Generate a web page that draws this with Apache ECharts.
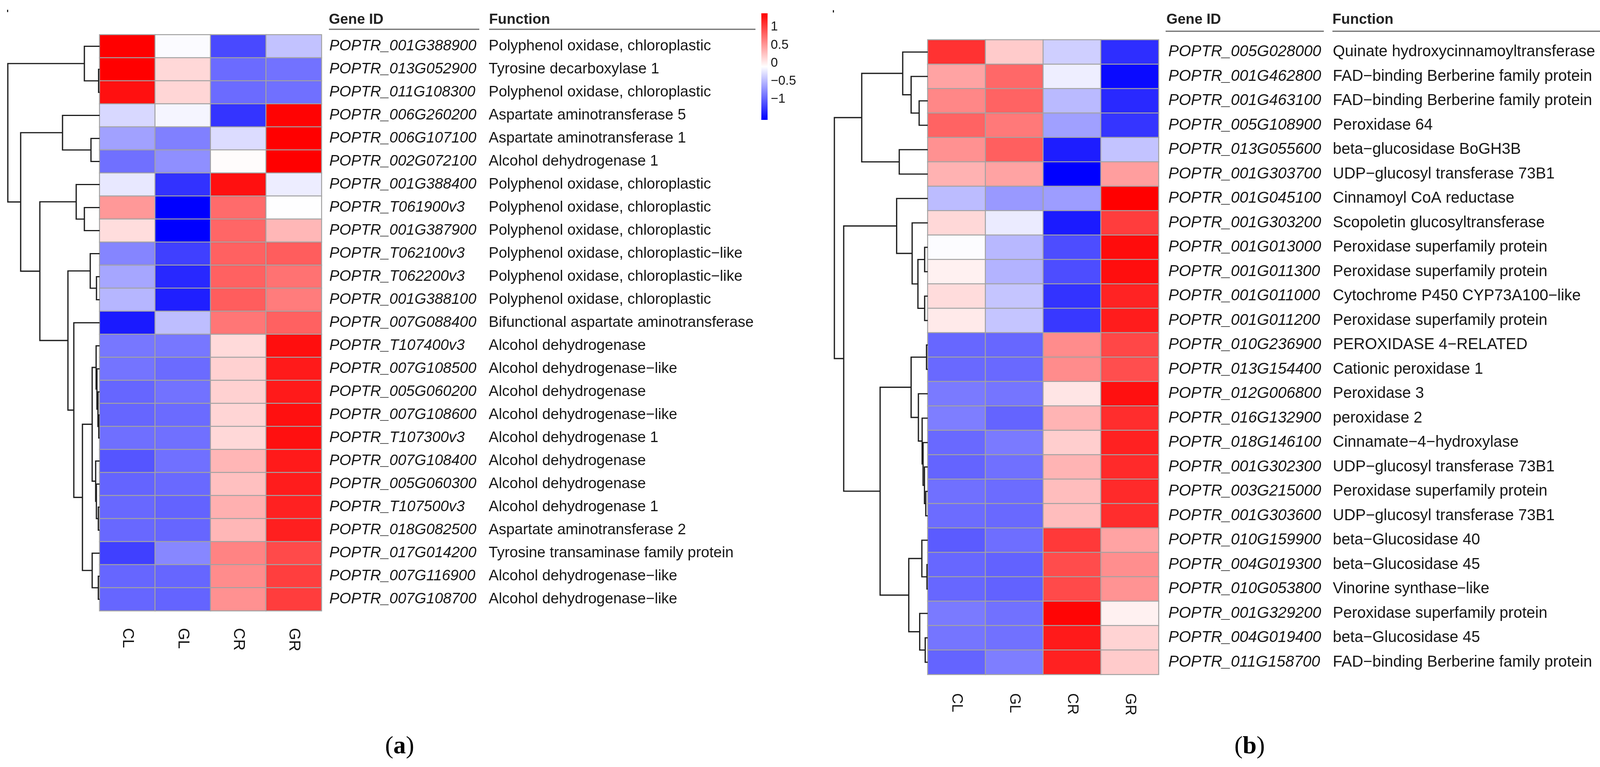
<!DOCTYPE html>
<html><head><meta charset="utf-8">
<script src="https://cdn.jsdelivr.net/npm/echarts@6/dist/echarts.min.js"></script>
<style>html,body{margin:0;padding:0;background:#fff}#c{width:4276px;height:1964px}</style>
</head><body><div id="c"></div>
<script>
// ---------- data ----------
const samples = ['CL', 'GL', 'CR', 'GR'];
const legendTicks = [-1, -0.5, 0, 0.5, 1];

// Panel (a)
const genesA = ['POPTR_001G388900','POPTR_013G052900','POPTR_011G108300','POPTR_006G260200','POPTR_006G107100','POPTR_002G072100','POPTR_001G388400','POPTR_T061900v3','POPTR_001G387900','POPTR_T062100v3','POPTR_T062200v3','POPTR_001G388100','POPTR_007G088400','POPTR_T107400v3','POPTR_007G108500','POPTR_005G060200','POPTR_007G108600','POPTR_T107300v3','POPTR_007G108400','POPTR_005G060300','POPTR_T107500v3','POPTR_018G082500','POPTR_017G014200','POPTR_007G116900','POPTR_007G108700'];
const funcsA = ['Polyphenol oxidase, chloroplastic','Tyrosine decarboxylase 1','Polyphenol oxidase, chloroplastic','Aspartate aminotransferase 5','Aspartate aminotransferase 1','Alcohol dehydrogenase 1','Polyphenol oxidase, chloroplastic','Polyphenol oxidase, chloroplastic','Polyphenol oxidase, chloroplastic','Polyphenol oxidase, chloroplastic\u2212like','Polyphenol oxidase, chloroplastic\u2212like','Polyphenol oxidase, chloroplastic','Bifunctional aspartate aminotransferase','Alcohol dehydrogenase','Alcohol dehydrogenase\u2212like','Alcohol dehydrogenase','Alcohol dehydrogenase\u2212like','Alcohol dehydrogenase 1','Alcohol dehydrogenase','Alcohol dehydrogenase','Alcohol dehydrogenase 1','Aspartate aminotransferase 2','Tyrosine transaminase family protein','Alcohol dehydrogenase\u2212like','Alcohol dehydrogenase\u2212like'];
const CL_A = [1.38, 1.38, 1.29, -0.32, -0.64, -0.92, -0.23, 0.50, 0.10, -0.80, -0.61, -0.52, -1.42, -0.88, -0.90, -0.98, -0.98, -0.93, -1.08, -0.99, -0.97, -0.97, -1.20, -0.98, -0.98];
const GL_A = [-0.12, 0.13, 0.14, -0.15, -0.83, -0.74, -1.28, -1.57, -1.57, -1.20, -1.34, -1.39, -0.47, -0.88, -0.95, -0.91, -0.95, -0.92, -0.92, -0.96, -1.00, -0.98, -0.79, -0.98, -0.99];
const CR_A = [-1.15, -0.95, -0.95, -1.27, -0.30, -0.08, 1.29, 0.76, 0.79, 0.82, 0.82, 0.84, 0.70, 0.12, 0.17, 0.17, 0.15, 0.13, 0.33, 0.27, 0.36, 0.32, 0.62, 0.57, 0.54];
const GR_A = [-0.45, -0.91, -0.92, 1.36, 1.38, 1.38, -0.20, -0.10, 0.32, 0.84, 0.72, 0.66, 0.82, 1.30, 1.23, 1.23, 1.29, 1.29, 1.23, 1.22, 1.19, 1.20, 0.95, 1.02, 1.03];
const rangeA = [-1.57, 1.38];
// row dendrogram: [height, left, right]; leaves are row indices
const treeA = [10.0,
  [1.66, 0, [0.11, 1, 2]],
  [8.60,
    [4.04, 3, [0.94, 4, 5]],
    [6.51,
      [2.55, 6, [1.66, 7, 8]],
      [3.45,
        [1.02, 9, [0.34, 10, 11]],
        [2.81, 12,
          [1.87,
            [0.81,
              [0.38, 13, [0.29, 14, [0.18, 15, [0.09, 16, 17]]]],
              [0.43, 18, [0.35, 19, [0.14, 20, 21]]]],
            [0.81, 22, [0.14, 23, 24]]]]]]]];

// Panel (b)
const genesB = ['POPTR_005G028000','POPTR_001G462800','POPTR_001G463100','POPTR_005G108900','POPTR_013G055600','POPTR_001G303700','POPTR_001G045100','POPTR_001G303200','POPTR_001G013000','POPTR_001G011300','POPTR_001G011000','POPTR_001G011200','POPTR_010G236900','POPTR_013G154400','POPTR_012G006800','POPTR_016G132900','POPTR_018G146100','POPTR_001G302300','POPTR_003G215000','POPTR_001G303600','POPTR_010G159900','POPTR_004G019300','POPTR_010G053800','POPTR_001G329200','POPTR_004G019400','POPTR_011G158700'];
const funcsB = ['Quinate hydroxycinnamoyltransferase','FAD\u2212binding Berberine family protein','FAD\u2212binding Berberine family protein','Peroxidase 64','beta\u2212glucosidase BoGH3B','UDP\u2212glucosyl transferase 73B1','Cinnamoyl CoA reductase','Scopoletin glucosyltransferase','Peroxidase superfamily protein','Peroxidase superfamily protein','Cytochrome P450 CYP73A100\u2212like','Peroxidase superfamily protein','PEROXIDASE 4\u2212RELATED','Cationic peroxidase 1','Peroxidase 3','peroxidase 2','Cinnamate\u22124\u2212hydroxylase','UDP\u2212glucosyl transferase 73B1','Peroxidase superfamily protein','UDP\u2212glucosyl transferase 73B1','beta\u2212Glucosidase 40','beta\u2212Glucosidase 45','Vinorine synthase\u2212like','Peroxidase superfamily protein','beta\u2212Glucosidase 45','FAD\u2212binding Berberine family protein'];
const CL_B = [1.10, 0.45, 0.61, 0.82, 0.55, 0.36, -0.47, 0.14, -0.10, 0.00, 0.12, 0.04, -0.96, -0.95, -0.85, -0.83, -0.95, -0.98, -0.91, -0.93, -1.03, -0.96, -0.96, -0.85, -0.88, -0.98];
const GL_B = [0.22, 0.79, 0.82, 0.69, 0.84, 0.45, -0.67, -0.20, -0.49, -0.52, -0.42, -0.42, -0.96, -0.95, -0.88, -0.98, -0.85, -0.91, -0.93, -0.95, -0.92, -0.99, -0.99, -0.90, -0.90, -0.83];
const CR_B = [-0.36, -0.18, -0.48, -0.63, -1.39, -1.555, -0.65, -1.40, -1.11, -1.11, -1.26, -1.23, 0.58, 0.58, 0.07, 0.35, 0.20, 0.35, 0.30, 0.30, 1.06, 0.95, 0.96, 1.36, 1.24, 1.20];
const GR_B = [-1.29, -1.50, -1.32, -1.25, -0.43, 0.48, 1.39, 1.04, 1.32, 1.31, 1.19, 1.23, 0.98, 0.94, 1.30, 1.13, 1.20, 1.15, 1.15, 1.13, 0.45, 0.57, 0.54, 0.00, 0.17, 0.22];
const rangeB = [-1.555, 1.39];
const treeB = [10.0,
  [7.07,
    [2.68, 0, [1.78, 1, [0.92, 2, 3]]],
    [3.05, 4, 5]],
  [9.0,
    [3.33, 6, [1.67, 7, [1.05, [0.33, 8, 9], [0.33, 10, 11]]]],
    [5.10,
      [1.78, [0.13, 12, 13], [1.0, 14, [0.60, 15, [0.50, 16, [0.35, 17, [0.21, 18, 19]]]]]],
      [2.03, [0.63, 20, [0.08, 21, 22]], [0.86, 23, [0.27, 24, 25]]]]]];

// ---------- helpers ----------
function cells(cols) {
  const out = [];
  cols.forEach((arr, ci) => arr.forEach((v, ri) => out.push([ci, ri, v])));
  return out;
}
function dendro(tree) {
  const segs = [];
  function walk(n) {
    if (typeof n === 'number') return { h: 0, y: n + 0.5 };
    const a = walk(n[1]), b = walk(n[2]);
    segs.push([n[0], a.y, b.y, a.h, b.h]);
    return { h: n[0], y: (a.y + b.y) / 2 };
  }
  walk(tree);
  return segs;
}
const FONT = 'Liberation Sans, Arial, sans-serif';
const TXT = '#161616';
const blueWhiteRed = ['#0000FF', '#FFFFFF', '#FF0000'];

function dendroRender(params, api) {
  const h = api.value(0), y1 = api.value(1), y2 = api.value(2), h1 = api.value(3), h2 = api.value(4);
  const pts = [api.coord([h1, y1]), api.coord([h, y1]), api.coord([h, y2]), api.coord([h2, y2])];
  return { type: 'polyline', shape: { points: pts }, style: { stroke: '#1e1e1e', lineWidth: 3.2, fill: null } };
}
function legendRender(range) {
  return function (params, api) {
    const p1 = api.coord([0, range[1]]);
    const p2 = api.coord([1, range[0]]);
    return {
      type: 'rect',
      shape: { x: p1[0], y: p1[1], width: p2[0] - p1[0], height: p2[1] - p1[1] },
      style: { fill: new echarts.graphic.LinearGradient(0, 0, 0, 1, [
        { offset: 0, color: '#FF0000' }, { offset: 0.5, color: '#FFFFFF' }, { offset: 1, color: '#0000FF' }]) }
    };
  };
}
function geneAxis(genes, funcs, gridIndex, margin, idWidth, fs) {
  return {
    type: 'category', data: genes, gridIndex, inverse: true, position: 'right',
    axisLine: { show: false }, axisTick: { show: false }, splitLine: { show: false },
    axisLabel: {
      interval: 0, margin,
      formatter: (v, i) => '{id|' + v + '}{fn|' + funcs[i] + '}',
      rich: {
        id: { width: idWidth, fontStyle: 'italic', fontSize: fs, fontFamily: FONT, color: TXT },
        fn: { fontSize: fs, fontFamily: FONT, color: TXT }
      }
    }
  };
}
function sampleAxis(gridIndex, margin, fs) {
  return {
    type: 'category', data: samples, gridIndex, position: 'bottom',
    axisLine: { show: false }, axisTick: { show: false }, splitLine: { show: false },
    axisLabel: { interval: 0, rotate: -90, margin, fontSize: fs, fontFamily: FONT, color: TXT }
  };
}
function legendAxis(range, gridIndex) {
  return {
    type: 'value', gridIndex, min: range[0], max: range[1], position: 'right',
    axisLine: { show: false }, axisTick: { show: false }, splitLine: { show: false },
    axisLabel: {
      customValues: legendTicks, margin: 8, fontSize: 33, fontFamily: FONT, color: TXT,
      formatter: v => (v < 0 ? '\u2212' + Math.abs(v) : String(v))
    }
  };
}

const option = {
  animation: false,
  backgroundColor: '#ffffff',
  grid: [
    { left: 255, top: 89, width: 568, height: 1475 },
    { left: 20, top: 89, width: 235, height: 1475 },
    { left: 1949, top: 34, width: 16, height: 273 },
    { left: 2375, top: 102, width: 591, height: 1625 },
    { left: 2136, top: 102, width: 239, height: 1625 },
    { left: 4166, top: 32, width: 18, height: 285 }
  ],
  xAxis: [
    sampleAxis(0, 44, 40),
    { type: 'value', gridIndex: 1, min: 0, max: 10, inverse: true, show: false },
    { type: 'value', gridIndex: 2, min: 0, max: 1, show: false },
    sampleAxis(3, 48, 38),
    { type: 'value', gridIndex: 4, min: 0, max: 10, inverse: true, show: false },
    { type: 'value', gridIndex: 5, min: 0, max: 1, show: false }
  ],
  yAxis: [
    geneAxis(genesA, funcsA, 0, 20, 408, 38.5),
    { type: 'value', gridIndex: 1, min: 0, max: genesA.length, inverse: true, show: false },
    legendAxis(rangeA, 2),
    geneAxis(genesB, funcsB, 3, 25, 421, 40),
    { type: 'value', gridIndex: 4, min: 0, max: genesB.length, inverse: true, show: false },
    legendAxis(rangeB, 5)
  ],
  visualMap: [
    { type: 'continuous', show: false, seriesIndex: 0, min: rangeA[0], max: rangeA[1], inRange: { color: blueWhiteRed } },
    { type: 'continuous', show: false, seriesIndex: 3, min: rangeB[0], max: rangeB[1], inRange: { color: blueWhiteRed } }
  ],
  series: [
    { type: 'heatmap', xAxisIndex: 0, yAxisIndex: 0, data: cells([CL_A, GL_A, CR_A, GR_A]),
      itemStyle: { borderColor: '#a2a2a2', borderWidth: 2.5 }, emphasis: { disabled: true } },
    { type: 'custom', xAxisIndex: 1, yAxisIndex: 1, data: dendro(treeA), renderItem: dendroRender, clip: false, silent: true },
    { type: 'custom', xAxisIndex: 2, yAxisIndex: 2, data: [[0, 0]], renderItem: legendRender(rangeA), silent: true },
    { type: 'heatmap', xAxisIndex: 3, yAxisIndex: 3, data: cells([CL_B, GL_B, CR_B, GR_B]),
      itemStyle: { borderColor: '#a2a2a2', borderWidth: 2.5 }, emphasis: { disabled: true } },
    { type: 'custom', xAxisIndex: 4, yAxisIndex: 4, data: dendro(treeB), renderItem: dendroRender, clip: false, silent: true },
    { type: 'custom', xAxisIndex: 5, yAxisIndex: 5, data: [[0, 0]], renderItem: legendRender(rangeB), silent: true }
  ],
  graphic: [
    // headers (a)
    { type: 'text', style: { x: 842, y: 51, text: 'Gene ID', font: 'bold 37px ' + FONT, fill: '#222', align: 'left', verticalAlign: 'middle' } },
    { type: 'text', style: { x: 1252, y: 51, text: 'Function', font: 'bold 37px ' + FONT, fill: '#222', align: 'left', verticalAlign: 'middle' } },
    { type: 'line', shape: { x1: 842, y1: 75, x2: 1227, y2: 75 }, style: { stroke: '#6a6a6a', lineWidth: 3 } },
    { type: 'line', shape: { x1: 1252, y1: 75, x2: 1934, y2: 75 }, style: { stroke: '#6a6a6a', lineWidth: 3 } },
    // headers (b)
    { type: 'text', style: { x: 2986, y: 51, text: 'Gene ID', font: 'bold 37px ' + FONT, fill: '#222', align: 'left', verticalAlign: 'middle' } },
    { type: 'text', style: { x: 3411, y: 51, text: 'Function', font: 'bold 37px ' + FONT, fill: '#222', align: 'left', verticalAlign: 'middle' } },
    { type: 'line', shape: { x1: 2984, y1: 80, x2: 3389, y2: 80 }, style: { stroke: '#6a6a6a', lineWidth: 3 } },
    { type: 'line', shape: { x1: 3411, y1: 80, x2: 4141, y2: 80 }, style: { stroke: '#6a6a6a', lineWidth: 3 } },
    // panel letters
    { type: 'text', style: { x: 1023, y: 1912, text: '{p|(}{b|a}{p|)}', align: 'center', verticalAlign: 'middle',
      rich: { p: { fontFamily: 'Liberation Serif, Times New Roman, serif', fontSize: 64, fill: '#000' },
              b: { fontFamily: 'Liberation Serif, Times New Roman, serif', fontSize: 64, fontWeight: 'bold', fill: '#000' } } } },
    { type: 'text', style: { x: 3199, y: 1912, text: '{p|(}{b|b}{p|)}', align: 'center', verticalAlign: 'middle',
      rich: { p: { fontFamily: 'Liberation Serif, Times New Roman, serif', fontSize: 64, fill: '#000' },
              b: { fontFamily: 'Liberation Serif, Times New Roman, serif', fontSize: 64, fontWeight: 'bold', fill: '#000' } } } },
    // small stray marks at the top-left corners
    { type: 'rect', shape: { x: 18, y: 25, width: 3, height: 6 }, style: { fill: '#222' } },
    { type: 'rect', shape: { x: 2132, y: 26, width: 3, height: 6 }, style: { fill: '#222' } }
  ]
};
const chart = echarts.init(document.getElementById('c'));
chart.setOption(option);
</script>
</body></html>
